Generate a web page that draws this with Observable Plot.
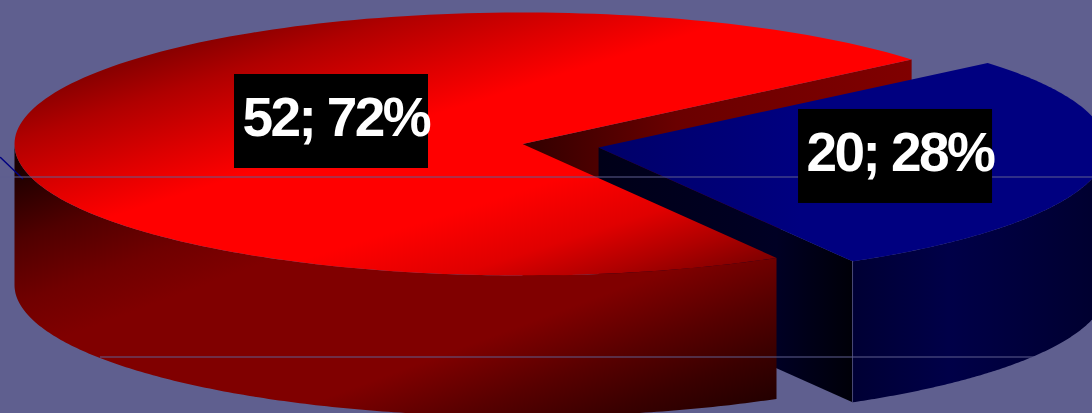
<!DOCTYPE html>
<html><head><meta charset="utf-8">
<script src="https://cdn.jsdelivr.net/npm/d3@7"></script>
<script src="https://cdn.jsdelivr.net/npm/@observablehq/plot@0.6"></script>
<style>html,body{margin:0;padding:0;background:#5f5f8f;overflow:hidden}svg{display:block}</style>
</head><body><div id="chart"></div>
<script>
const categories = ["A", "B"];
const values = [52, 20];
const W = 1092, H = 413;
const total = d3.sum(values);
// pie projection
const cx = 522, cy = 143.5, rx = 508, ry = 131.5, depth = 141, explode = 0.152;
const startAngle = 40;
const blueSpan = values[1] / total * 360;
const blueFrom = startAngle - blueSpan, blueTo = startAngle, blueMid = (blueFrom + blueTo) / 2;
const rad = d => d * Math.PI / 180;
const ox = rx * explode * Math.cos(rad(blueMid)), oy = -ry * explode * Math.sin(rad(blueMid));
const pt = (t, dx = 0, dy = 0) => ({x: cx + dx + rx * Math.cos(rad(t)), y: cy + dy - ry * Math.sin(rad(t))});
const arc = (a, b, dx = 0, dy = 0) => d3.range(0, 181).map(i => pt(a + (b - a) * i / 180, dx, dy));
const center = (dx = 0, dy = 0) => ({x: cx + dx, y: cy + dy});
const lower = (ps) => ps.map(p => ({x: p.x, y: p.y + depth}));
const face = (pts, fill) => Plot.line(pts, {x: "x", y: "y", fill, stroke: "none"});

const redEnd = blueFrom + 360;
const redTop = [center(), ...arc(startAngle, redEnd)];
const redSideArc = arc(180, redEnd);
const redSide = [...redSideArc, ...lower(redSideArc).reverse()];
const redWall = [center(), pt(startAngle), ...lower([pt(startAngle), center()])];
const blueTop = [center(ox, oy), ...arc(blueFrom, blueTo, ox, oy)];
const blueSideArc = arc(blueFrom, 5, ox, oy);
const blueSide = [...blueSideArc, ...lower(blueSideArc).reverse()];
const blueCut = pt(blueFrom, ox, oy);
const blueWall = [center(ox, oy), blueCut, ...lower([blueCut, center(ox, oy)])];

const labelW = 194, labelH = 94;
const labelCenters = [{x: cx - 191, y: cy - 22.5}, {x: cx + ox + 297, y: cy + oy + 9}];
const labels = values.map((v, i) => ({
  text: `${v}; ${Math.round(v / total * 100)}%`,
  x1: labelCenters[i].x - labelW / 2, x2: labelCenters[i].x + labelW / 2,
  y1: labelCenters[i].y - labelH / 2, y2: labelCenters[i].y + labelH / 2
}));

function grad(defs, id, x1, y1, x2, y2, stops) {
  const g = defs.append("linearGradient").attr("id", id).attr("gradientUnits", "userSpaceOnUse")
    .attr("x1", x1).attr("y1", y1).attr("x2", x2).attr("y2", y2);
  stops.forEach(([o, c]) => g.append("stop").attr("offset", o).attr("stop-color", c));
}
const gradients = () => {
  const defs = d3.create("svg:defs");
  grad(defs, "redTop", 30, 95, 144, 456, [[0, "#8a0000"], [.1, "#b00000"], [.25, "#dd0000"], [.37, "#ff0000"], [.63, "#ff0000"], [.79, "#e00000"], [.9, "#b00000"], [1, "#800000"]]);
  grad(defs, "redSide", 52, 140, 230, 618, [[0, "#140000"], [.03, "#1c0000"], [.16, "#500000"], [.275, "#700000"], [.37, "#800000"], [.66, "#800000"], [.78, "#580000"], [.88, "#3a0000"], [1, "#1c0000"]]);
  grad(defs, "redWall", 520, 0, 910, 0, [[0, "#300000"], [.4, "#6a0000"], [1, "#800000"]]);
  grad(defs, "blueWall", 598, 0, 852, 0, [[0, "#000018"], [.7, "#000024"], [1, "#000008"]]);
  grad(defs, "blueSide", 852, 0, 1092, 0, [[0, "#000034"], [.4, "#000048"], [1, "#000030"]]);
  grad(defs, "blueTop", 598, 0, 800, 0, [[0, "#000068"], [1, "#000080"]]);
  return defs.node();
};

const plot = Plot.plot({
  width: W, height: H, margin: 0,
  x: {domain: [0, W], range: [0, W], axis: null},
  y: {domain: [0, H], range: [0, H], axis: null},
  style: {background: "#5f5f8f", letterSpacing: "-2.6px"},
  marks: [
    gradients,
    face(redWall, "url(#redWall)"),
    face(blueWall, "url(#blueWall)"),
    face(blueSide, "url(#blueSide)"),
    face(blueTop, "url(#blueTop)"),
    face(redSide, "url(#redSide)"),
    face(redTop, "url(#redTop)"),
    Plot.line([{x: 0, y: 157}, {x: 22, y: 178}], {x: "x", y: "y", stroke: "#000080", strokeWidth: 1.5}),
    Plot.ruleX([blueCut.x], {y1: blueCut.y, y2: blueCut.y + depth, stroke: "#5f5f8f", strokeWidth: 0.7}),
    Plot.ruleY([176.5], {stroke: "#5f5f8f", strokeWidth: 1}),
    Plot.ruleY([356.5], {x1: 100, x2: 1035, stroke: "#5f5f8f", strokeWidth: 1}),
    Plot.rect(labels, {x1: "x1", x2: "x2", y1: "y1", y2: "y2", fill: "#000"}),
    Plot.text(labels, {
      x: d => d.x1 + 8, y: d => (d.y1 + d.y2) / 2 - 3, text: "text", textAnchor: "start",
      fill: "#fff", fontSize: 55, fontWeight: "bold", fontFamily: "Liberation Sans"
    })
  ]
});
document.getElementById("chart").appendChild(plot);
</script></body></html>
